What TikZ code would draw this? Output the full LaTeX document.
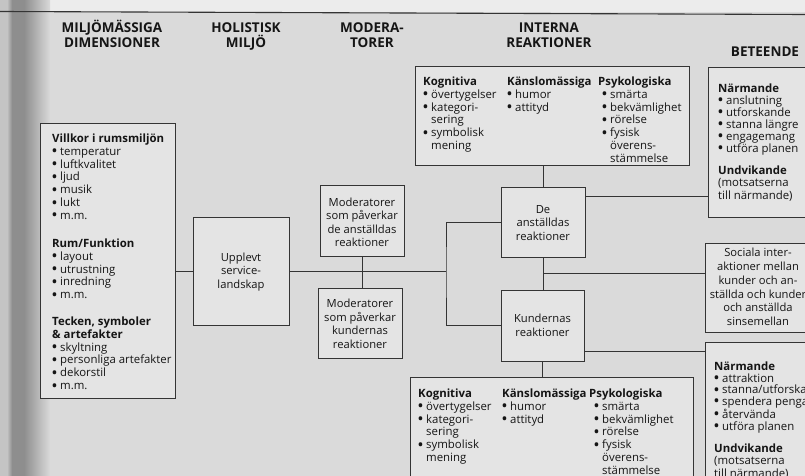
\documentclass[tikz,border=0pt]{standalone}
\usepackage{fontspec}
\setmainfont{Open Sans}
\usetikzlibrary{calc,fit}

\definecolor{paper}{HTML}{DADADA}
\definecolor{paperlight}{HTML}{ECECEC}
\definecolor{spineA}{HTML}{C4C4C4}
\definecolor{spineB}{HTML}{8E8E8E}
\definecolor{boxfill}{HTML}{E4E4E4}
\definecolor{ink}{HTML}{151515}
\definecolor{rulecol}{HTML}{343434}

% first-line strut so that a node's top edge sits at a fixed distance above its first baseline
\newcommand\fl{\rule{0pt}{10.5pt}}
\newcommand\hl{\rule{0pt}{12.5pt}}
\newcommand\bu{\makebox[8pt][l]{\raisebox{-0.3pt}{\fontsize{13}{13}\selectfont\textbf{•}}}}
\newcommand\cont{\hspace*{8pt}}

\tikzset{
  frame/.style={draw=rulecol, line width=0.9pt, fill=boxfill, inner sep=0pt},
  link/.style={draw=rulecol, line width=0.9pt},
  txt/.style={font=\fontsize{11.4}{12.9}\selectfont, text=ink, inner sep=0pt, align=left, anchor=north west},
  ctxt/.style={font=\fontsize{11.2}{13.5}\selectfont, text=ink, align=center, inner sep=0pt},
  head/.style={font=\bfseries\fontsize{13.5}{15}\selectfont, text=ink, align=center, inner sep=0pt, anchor=north},
}

\begin{document}
\begin{tikzpicture}[x=1pt,y=-1pt]
\useasboundingbox (0,0) rectangle (805,476);
\clip (0,0) rectangle (805,476);

% page and binding shadow
\fill[paper] (0,0) rectangle (805,476);
\fill[paperlight] (0,0) rectangle (805,12);
\fill[spineA] (0,0) rectangle (7,476);
\shade[left color=spineA, right color=spineB] (7,0) rectangle (12,476);
\fill[spineB] (12,0) rectangle (24,476);
\shade[left color=spineB, right color=paper] (24,0) rectangle (50,476);
\draw[rulecol, line width=1.1pt] (0,11.5) -- (805,14.5);

% column headings
\node[head] (h1) at (112,20.2) {\hl MILJÖMÄSSIGA\\DIMENSIONER};
\node[head] (h2) at (246,20.2) {\hl HOLISTISK\\MILJÖ};
\node[head] (h3) at (372,20.2) {\hl MODERA-\\TORER};
\node[head] (h4) at (549,20.2) {\hl INTERNA\\REAKTIONER};
\node[head] (h5) at (765,43.7) {\hl BETEENDE};

% environmental dimensions
\node[frame, fit={(40,123) (175,398)}] (env) {};
\node[txt] (envA) at (52,131.5) {\fl\textbf{Villkor i rumsmiljön}\\\bu temperatur\\\bu luftkvalitet\\\bu ljud\\\bu musik\\\bu lukt\\\bu m.m.};
\node[txt] (envB) at (52,236.5) {\fl\textbf{Rum/Funktion}\\\bu layout\\\bu utrustning\\\bu inredning\\\bu m.m.};
\node[txt] (envC) at (52,314.5) {\fl\textbf{Tecken, symboler}\\\textbf{\& artefakter}\\\bu skyltning\\\bu personliga artefakter\\\bu dekorstil\\\bu m.m.};

% holistic environment and moderators
\node[frame, fit={(193,217) (289,325)}] (up) {};
\node[ctxt] (upT) at ($(up.center)+(0,1)$) {Upplevt\\service-\\landskap};
\node[frame, fit={(320,185) (404,256)}] (mod1) {};
\node[ctxt] (mod1T) at ($(mod1.center)+(0,2)$) {Moderatorer\\som påverkar\\de anställdas\\reaktioner};
\node[frame, fit={(318,288) (402,358)}] (mod2) {};
\node[ctxt] (mod2T) at ($(mod2.center)+(0,1)$) {Moderatorer\\som påverkar\\kundernas\\reaktioner};

% responses
\node[frame, fit={(501,187) (585,257)}] (de) {};
\node[ctxt] (deT) at ($(de.center)+(0,1)$) {De\\anställdas\\reaktioner};
\node[frame, fit={(501,290) (584,361)}] (kund) {};
\node[ctxt] (kundT) at ($(kund.center)+(0,0)$) {Kundernas\\reaktioner};

\node[frame, fit={(415,66) (689,165)}] (int1) {};
\node[txt] at (423,74.5) {\fl\textbf{Kognitiva}\\\bu övertygelser\\\bu kategori-\\\cont sering\\\bu symbolisk\\\cont mening};
\node[txt] at (507,74.5) {\fl\textbf{Känslomässiga}\\\bu humor\\\bu attityd};
\node[txt] at (598,74.5) {\fl\textbf{Psykologiska}\\\hspace*{4pt}\bu smärta\\\hspace*{4pt}\bu bekvämlighet\\\hspace*{4pt}\bu rörelse\\\hspace*{4pt}\bu fysisk\\\hspace*{4pt}\cont överens-\\\hspace*{4pt}\cont stämmelse};

\node[frame, fit={(410,377) (693,495)}] (int2) {};
\node[txt] at (418,386.5) {\fl\textbf{Kognitiva}\\\bu övertygelser\\\bu kategori-\\\cont sering\\\bu symbolisk\\\cont mening};
\node[txt] at (502,386.5) {\fl\textbf{Känslomässiga}\\\bu humor\\\bu attityd};
\node[txt] at (589,386.5) {\fl\textbf{Psykologiska}\\\hspace*{5pt}\bu smärta\\\hspace*{5pt}\bu bekvämlighet\\\hspace*{5pt}\bu rörelse\\\hspace*{5pt}\bu fysisk\\\hspace*{5pt}\cont överens-\\\hspace*{5pt}\cont stämmelse};

% behaviours
\node[frame, fit={(708,67) (830,217)}] (near1) {};
\node[txt, font=\fontsize{11.4}{12}\selectfont] at (718,81.5) {\fl\textbf{Närmande}\\\bu anslutning\\\bu utforskande\\\bu stanna längre\\\bu engagemang\\\bu utföra planen};
\node[txt, font=\fontsize{11.4}{12.5}\selectfont] at (718,163.5) {\fl\textbf{Undvikande}\\(motsatserna\\till närmande)};

\node[frame, fit={(705,243) (811,332)}] (soc) {};
\node[ctxt, font=\fontsize{11.2}{13.8}\selectfont] (socT) at (758,287) {Sociala inter-\\aktioner mellan\\kunder och an-\\ställda och kunder\\och anställda\\sinsemellan};

\node[frame, fit={(705,342) (830,495)}] (near2) {};
\node[txt, font=\fontsize{11.4}{11.8}\selectfont] at (714,359.5) {\fl\textbf{Närmande}\\\bu attraktion\\\bu stanna/utforska\\\bu spendera pengar\\\bu återvända\\\bu utföra planen};
\node[txt, font=\fontsize{11.4}{12.5}\selectfont] at (714,441.5) {\fl\textbf{Undvikande}\\(motsatserna\\till närmande)};

% connectors
\coordinate (hub) at (446,271);
\draw[link] (env.east |- up.west) -- (up.west);
\draw[link] (up.east) -- (hub);
\draw[link] (mod1.south) -- (mod1.south |- mod2.north);
\draw[link] (de.west) -| (hub) |- (kund.west);
\draw[link] (de.north) -- (de.north |- int1.south);
\draw[link] (de.south) -- (de.south |- kund.north);
\coordinate (mid) at ($(de.south)!0.5!(de.south |- kund.north)$);
\draw[link] (mid) -- (mid -| soc.west);
\draw[link] ($(de.north east)!0.14!(de.south east)$) coordinate (dq) -- (dq -| near1.west);
\draw[link] ($(kund.north east)!0.86!(kund.south east)$) coordinate (kq) -- (kq -| near2.west);
\draw[link] (kund.south) -- (kund.south |- int2.north);
\end{tikzpicture}
\end{document}
